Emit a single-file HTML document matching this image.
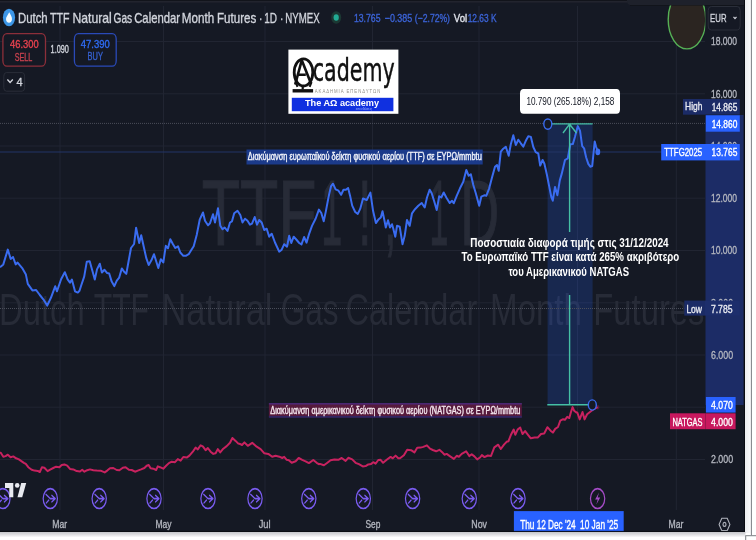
<!DOCTYPE html>
<html><head><meta charset="utf-8"><title>TTF vs NATGAS</title>
<style>
html,body{margin:0;padding:0;background:#ffffff;}
body{width:756px;height:540px;overflow:hidden;position:relative;}
svg{position:absolute;left:0;top:0;display:block;font-family:"Liberation Sans", "DejaVu Sans", sans-serif;}
</style></head>
<body>
<svg width="756" height="540" viewBox="0 0 756 540">
<rect x="0" y="0" width="745" height="532" fill="#151924"/>
<rect x="0" y="0.8" width="745" height="1.8" fill="#22242e"/>
<rect x="0" y="0" width="745" height="0.8" fill="#121319"/>
<path d="M627,0 H745 V5.2 H632 Q627,5.2 627,1 Z" fill="#1e212b"/>
<rect x="630" y="5.2" width="115" height="0.8" fill="#11131a"/>
<path d="M0,41.5 H705 M0,93.8 H705 M0,146.0 H705 M0,198.2 H705 M0,250.5 H705 M0,302.8 H705 M0,355.0 H705 M0,407.2 H705 M0,459.5 H705 M60,6 V510 M163.5,6 V510 M265,6 V510 M372.5,6 V510 M479,6 V510 M577.5,6 V510 M676.3,6 V510" stroke="#212532" stroke-width="1" fill="none"/>
<text x="201.7" y="245.2" font-size="93.5" fill="#272b37" text-anchor="start" font-weight="normal" textLength="114.8" lengthAdjust="spacingAndGlyphs" stroke="#272b37" stroke-width="1.2">TTF</text>
<text x="321.2" y="245.2" font-size="93.5" fill="#272b37" text-anchor="start" font-weight="normal" textLength="21.0" lengthAdjust="spacingAndGlyphs" stroke="#272b37" stroke-width="1.2">1</text>
<text x="358.5" y="245.2" font-size="93.5" fill="#272b37" text-anchor="start" font-weight="normal" textLength="12.6" lengthAdjust="spacingAndGlyphs" stroke="#272b37" stroke-width="1.2">!</text>
<text x="384.0" y="245.2" font-size="93.5" fill="#272b37" text-anchor="start" font-weight="normal" textLength="12.5" lengthAdjust="spacingAndGlyphs" stroke="#272b37" stroke-width="1.2">,</text>
<text x="429.5" y="245.2" font-size="93.5" fill="#272b37" text-anchor="start" font-weight="normal" textLength="18.9" lengthAdjust="spacingAndGlyphs" stroke="#272b37" stroke-width="1.2">1</text>
<text x="460.2" y="245.2" font-size="93.5" fill="#272b37" text-anchor="start" font-weight="normal" textLength="39.0" lengthAdjust="spacingAndGlyphs" stroke="#272b37" stroke-width="1.2">D</text>
<text x="-0.9" y="325.0" font-size="44" fill="#272b37" text-anchor="start" font-weight="normal" textLength="85.6" lengthAdjust="spacingAndGlyphs">Dutch</text>
<text x="93.7" y="325.0" font-size="44" fill="#272b37" text-anchor="start" font-weight="normal" textLength="55.4" lengthAdjust="spacingAndGlyphs">TTF</text>
<text x="161.5" y="325.0" font-size="44" fill="#272b37" text-anchor="start" font-weight="normal" textLength="111.0" lengthAdjust="spacingAndGlyphs">Natural</text>
<text x="280.7" y="325.0" font-size="44" fill="#272b37" text-anchor="start" font-weight="normal" textLength="57.8" lengthAdjust="spacingAndGlyphs">Gas</text>
<text x="345.5" y="325.0" font-size="44" fill="#272b37" text-anchor="start" font-weight="normal" textLength="131.7" lengthAdjust="spacingAndGlyphs">Calendar</text>
<text x="489.9" y="325.0" font-size="44" fill="#272b37" text-anchor="start" font-weight="normal" textLength="92.1" lengthAdjust="spacingAndGlyphs">Month</text>
<text x="593.3" y="325.0" font-size="44" fill="#272b37" text-anchor="start" font-weight="normal" textLength="111.2" lengthAdjust="spacingAndGlyphs">Futures</text>
<rect x="547.6" y="123.9" width="45" height="281" fill="#2962ff" fill-opacity="0.2"/>
<path d="M0,123.4 H705" stroke="#4a4e5a" stroke-width="1" stroke-dasharray="1 1"/>
<path d="M0,308.5 H705" stroke="#4a4e5a" stroke-width="1" stroke-dasharray="1 1"/>
<path d="M0,152 H705" stroke="#223466" stroke-width="1"/>
<path d="M0,452.2 L1.1,453.3 L3.3,456.7 L5.6,456.1 L7.8,454.7 L10.6,457.2 L13.3,456.4 L16.1,458.3 L18.9,459.4 L21.7,461.3 L23.9,462.8 L25.8,463.9 L28.3,467.2 L31.7,469.8 L34.4,470.6 L37.8,470.9 L39.8,472 L42,467.2 L44.4,467.8 L47.6,471.1 L50.6,469.4 L53.3,468 L56.1,466.7 L59.4,467.2 L61.7,465 L64.4,464.4 L67.2,465.6 L70,468.9 L73.3,469.4 L76.7,471.1 L80,471.5 L82.2,469.8 L84.4,471.7 L87.2,470.2 L90,469.4 L93.3,470.2 L96.7,470.6 L100.6,470.7 L104.7,472.4 L107.2,470.6 L110,468.3 L113.3,468 L116.7,470 L119.4,470.2 L122.8,467.8 L125.6,467.2 L128.9,469.8 L131.7,470 L135,471.7 L137.8,470.6 L141.1,469.4 L144.4,468 L146.7,465.8 L148.7,465 L150.6,468.3 L153.3,468.7 L156.1,470 L157.8,466.4 L160,467.2 L163.3,468.7 L166.1,465.8 L168.9,463.1 L171.7,461.7 L175,462.2 L177.8,459.1 L180.6,460.6 L183.3,457 L186.7,457.6 L189.4,455.6 L192.8,451.7 L195.6,447.6 L197.8,449.4 L200.6,445.3 L202.8,446.4 L205.6,450.2 L207.8,448 L210.6,451.7 L213.3,453.9 L215.6,453.3 L217.8,449.1 L220.2,452.4 L223.3,448.7 L226.7,446.1 L230,442.8 L232.4,438 L235.6,440.9 L238.3,443.6 L240,443.9 L242,445 L244.4,442.4 L247.8,445.8 L252.2,442.8 L256.7,446.7 L260.6,449.1 L264.4,453.3 L268.3,453.9 L272.2,456.7 L275.6,455.8 L279.4,456.7 L282.2,458 L284.2,456.9 L286.7,459.8 L288.9,460.2 L291.7,462.8 L295.6,461.3 L298.7,458 L302.2,459.8 L305.6,461.3 L308.9,463.1 L313.3,460 L316.7,462.8 L318.9,464.2 L320,463.9 L323.9,465.3 L326.7,463.3 L330.6,460.2 L334.4,459.4 L338.3,459.8 L341.7,458 L345.6,460.9 L348.3,457.8 L352.2,459.4 L355.6,462.8 L358.9,464.2 L362.8,466.4 L365.6,466.1 L368.3,464.4 L371.1,463.9 L373.3,462.2 L375.6,463.6 L378.3,460 L380.6,459.8 L383.1,462.8 L386.7,459.8 L390.6,456.9 L392.8,458.3 L395.6,455.6 L398.3,458.3 L400,458.3 L403.9,455.3 L407.2,449.8 L411.1,450.2 L414.4,452.4 L417.2,447.8 L420.6,447.6 L423.3,446.9 L426.9,445.3 L430,448.7 L432.8,450 L436.1,451.3 L439.4,449.8 L442.2,452.2 L444.4,454.7 L446.7,453.9 L449.8,456.1 L453.9,458.9 L456.7,455.8 L458.9,456.7 L461.7,453.9 L466.1,451.3 L469.4,456.1 L471.7,454.2 L474.4,456.4 L477.2,459.4 L480,457.5 L481.9,455.1 L484.5,457.1 L487.8,455.5 L491,456 L494.3,447.3 L498.2,444.7 L500.8,449 L504,444.7 L506.6,441.8 L508.5,441.2 L511.1,434.4 L513.7,429.6 L515.3,434.8 L517.6,429.6 L520.2,427.5 L522.5,434 L525.1,431.1 L528,434.8 L530.8,438.3 L534.5,437.6 L537.7,437.6 L541,434 L544.2,433.5 L547.4,427.2 L550.6,430.7 L552.9,432.6 L555.2,428.9 L558,427 L560.3,420.6 L563.1,419.2 L564.9,419.8 L567.2,416.9 L569.3,418 L570.9,412.2 L572.6,407.1 L574.2,410.8 L576,412.2 L577.4,412.7 L579.7,419.4 L582.5,412 L584.6,419.4 L587.1,414.3 L590.6,411.5 L594,409 L597.6,407.2" stroke="#c8225f" stroke-width="2" fill="none" stroke-linejoin="round"/>
<path d="M0,267.2 L3.3,264.4 L7.8,249.6 L10.7,258.9 L13,257 L15.7,264.4 L17.6,262.6 L22.2,268.1 L25.9,274.6 L27.8,283.9 L32.4,290.4 L36.1,290 L39.8,295 L43.5,299.6 L47.2,305.6 L50.9,297.8 L55.2,286.3 L57,291.3 L61.1,279.3 L64.8,272.2 L67.6,279.3 L70,282.6 L71.9,279.6 L75,291.3 L77.8,292.6 L79.5,290.8 L81.1,285.7 L84.2,276.6 L86.8,261.7 L89.7,261.3 L92.3,270.4 L94.8,279.6 L97,269.4 L99.8,263.7 L101.9,272.5 L104.5,269.8 L107.2,273.1 L109.2,273.5 L111.7,281.6 L114.3,286.1 L116.8,280.6 L119.2,277.6 L121.8,268.4 L123.9,271.5 L126.3,273.9 L128.4,262.3 L131,248 L134.1,244 L136.1,227.7 L139.2,243 L141.2,235.2 L143.8,247 L146.3,258.2 L148.7,265 L151.4,260.3 L154,254.2 L155.8,260 L158.3,268 L160.8,259.2 L163.3,262.5 L165.8,245.8 L168,248.3 L170.3,239.2 L173,244.2 L175.3,248 L178,246.3 L180.3,252.5 L183.3,255.8 L185.8,255.8 L188.7,254.2 L191.3,250 L193.7,246.3 L196.7,235 L199.7,219.7 L203,212.5 L205,220.8 L208,225.3 L210,223.3 L213,214.2 L215,222.5 L218,208.3 L220.3,225.8 L222.5,229.2 L224.7,227.5 L227.5,231 L230,222.5 L232,221.3 L234.2,213.3 L237.5,210.8 L240.3,215 L242.5,222.5 L245,218.7 L247.5,220.8 L250,224.7 L252,223.7 L254.7,217 L257,224.7 L259.2,220 L261.7,222.5 L264.2,230 L266.7,228.7 L269.2,236.7 L271.7,233.7 L275,242.5 L279.2,251.7 L281.7,249.7 L284.2,244.2 L287,246.7 L289.2,235.8 L291.3,243 L293.7,236.7 L296.7,240 L299.2,243 L301.5,244.4 L304.1,237 L306.5,242.6 L309.3,233.3 L312,225.9 L315.7,218.5 L318.9,209.6 L321.3,213 L323.7,221.3 L325.9,211.1 L328.7,196.3 L331.1,186.1 L333,183.7 L335.6,189.3 L338.5,190.7 L341.1,194.8 L343.5,189.8 L345.9,189.8 L348.1,188 L350,195.4 L352.2,205.6 L355.2,212 L357.8,213.9 L360.2,208.9 L363,198.5 L366.7,200 L370.4,192.6 L373.1,211.1 L375.9,223.1 L378.7,219.2 L380.8,217.5 L382.5,211.3 L384.2,219.2 L385.8,227.5 L388,220.3 L390,227.5 L392,224.2 L393.3,228.7 L395.3,236.7 L397,225.8 L399.7,226.7 L402.5,244.2 L404.7,235.8 L407,220 L409.7,225.8 L412,213.3 L415,209.2 L418.3,205.8 L421.7,203 L424.7,207.5 L427,197.5 L429.7,189.7 L431.7,193.3 L434.2,201.3 L436.7,210 L439.2,196.3 L441.3,197.5 L443.7,192.5 L446.3,197.5 L449.7,203 L452,200.8 L453.7,203.3 L456.7,195.8 L460,188.3 L463.3,181.7 L466.3,170 L468.7,175.8 L470.8,174.2 L473.3,185 L475.8,193.3 L479.2,205.8 L481.3,196.7 L484.2,195.3 L486.3,195.8 L489.2,188.3 L492,177.5 L495,166.7 L497,165 L498.7,170.8 L500.8,151.7 L503.3,148.7 L505.8,146.7 L508.7,155.8 L510.8,144.2 L513.3,135.3 L515.8,145 L518.3,139.7 L520.8,143.3 L523.3,146.7 L525.8,140.8 L528.3,136.3 L530.9,136.9 L533.3,147 L535.7,152.2 L538.3,153.5 L540.2,165.6 L542.6,160 L544.4,163.7 L546.9,174.8 L549.1,185.9 L551.3,197 L552.8,200.7 L555,186.9 L557.4,195.2 L559.8,180.4 L561.7,173.9 L565,160 L567.8,158.3 L570.3,144.3 L572.8,144.1 L575,136.7 L577.8,126.1 L580,130.6 L582.2,146.1 L584.1,148.3 L586.1,157.2 L588.3,163.9 L590.3,166.7 L592.2,166.1 L594.7,141.4 L596.1,146.7 L597.8,151.9" stroke="#3a6cf0" stroke-width="2" fill="none" stroke-linejoin="round"/>
<ellipse cx="597.8" cy="151.9" rx="2.4" ry="3.3" fill="#3a6cf0"/>
<ellipse cx="597.8" cy="407.2" rx="1.6" ry="2.2" fill="#c8225f" opacity="0.3"/>
<path d="M551.8,123.9 H592.6 M547.3,404.8 H588 M569.6,124 V232 M569.6,295 V404.8 M563,133 L569.6,124.2 L576.5,133" stroke="#45bfa5" stroke-width="1.4" fill="none"/>
<ellipse cx="547.8" cy="124.1" rx="4" ry="5.1" stroke="#3a6cf0" stroke-width="1.4" fill="#151924"/>
<ellipse cx="592.3" cy="405" rx="4" ry="5.1" stroke="#3a6cf0" stroke-width="1.4" fill="#151924"/>
<rect x="246.5" y="149.5" width="236.2" height="15" fill="#1b3a8a"/>
<text x="247.8" y="159.9" font-size="10" fill="#f0f3fa" text-anchor="start" font-weight="normal" textLength="234.0" lengthAdjust="spacingAndGlyphs" stroke="#f0f3fa" stroke-width="0.4">Διακύμανση ευρωπαϊκού δείκτη φυσικού αερίου (TTF) σε ΕΥΡΩ/mmbtu</text>
<rect x="268.9" y="403.1" width="252.9" height="14.5" fill="#561a3c"/>
<rect x="268.9" y="403.1" width="252.9" height="1.4" fill="#4b2a7c"/>
<rect x="268.9" y="416.2" width="252.9" height="1.4" fill="#29296e"/>
<text x="270.3" y="413.8" font-size="10" fill="#f4e6ee" text-anchor="start" font-weight="normal" textLength="250.0" lengthAdjust="spacingAndGlyphs" stroke="#f4e6ee" stroke-width="0.4">Διακύμανση αμερικανικού δείκτη φυσικού αερίου (NATGAS) σε ΕΥΡΩ/mmbtu</text>
<text x="470.3" y="246.6" font-size="12" fill="#ffffff" text-anchor="start" font-weight="bold" textLength="198.3" lengthAdjust="spacingAndGlyphs">Ποσοστιαία διαφορά τιμής στις 31/12/2024</text>
<text x="461.5" y="261.4" font-size="12" fill="#ffffff" text-anchor="start" font-weight="bold" textLength="217.7" lengthAdjust="spacingAndGlyphs">Το Ευρωπαϊκό TTF είναι κατά 265% ακριβότερο</text>
<text x="508.4" y="275.7" font-size="12" fill="#ffffff" text-anchor="start" font-weight="bold" textLength="120.6" lengthAdjust="spacingAndGlyphs">του Αμερικανικού NATGAS</text>
<rect x="520" y="88.9" width="100" height="24.8" rx="3.5" ry="4.5" fill="#ffffff"/>
<text x="526.4" y="105.0" font-size="10.5" fill="#131722" text-anchor="start" font-weight="normal" textLength="88.0" lengthAdjust="spacingAndGlyphs">10.790 (265.18%) 2,158</text>
<clipPath id="c1"><rect x="600" y="5.5" width="105.3" height="60"/></clipPath>
<ellipse cx="687" cy="19.5" rx="18.8" ry="29.4" fill="#2b2521" stroke="#56b156" stroke-width="1.4" clip-path="url(#c1)"/>
<rect x="705.5" y="115" width="38" height="290" fill="#1c2c66"/>
<text x="711.0" y="45.4" font-size="11.6" fill="#b2b5be" text-anchor="start" font-weight="normal" textLength="26.1" lengthAdjust="spacingAndGlyphs" stroke="#b2b5be" stroke-width="0.35">18.000</text>
<text x="711.0" y="97.7" font-size="11.6" fill="#b2b5be" text-anchor="start" font-weight="normal" textLength="26.1" lengthAdjust="spacingAndGlyphs" stroke="#b2b5be" stroke-width="0.35">16.000</text>
<text x="711.0" y="149.9" font-size="11.6" fill="#b2b5be" text-anchor="start" font-weight="normal" textLength="26.1" lengthAdjust="spacingAndGlyphs" stroke="#b2b5be" stroke-width="0.35">14.000</text>
<text x="711.0" y="202.2" font-size="11.6" fill="#b2b5be" text-anchor="start" font-weight="normal" textLength="26.1" lengthAdjust="spacingAndGlyphs" stroke="#b2b5be" stroke-width="0.35">12.000</text>
<text x="711.0" y="254.4" font-size="11.6" fill="#b2b5be" text-anchor="start" font-weight="normal" textLength="26.1" lengthAdjust="spacingAndGlyphs" stroke="#b2b5be" stroke-width="0.35">10.000</text>
<text x="711.0" y="306.6" font-size="11.6" fill="#b2b5be" text-anchor="start" font-weight="normal" textLength="22.1" lengthAdjust="spacingAndGlyphs" stroke="#b2b5be" stroke-width="0.35">8.000</text>
<text x="711.0" y="358.9" font-size="11.6" fill="#b2b5be" text-anchor="start" font-weight="normal" textLength="22.1" lengthAdjust="spacingAndGlyphs" stroke="#b2b5be" stroke-width="0.35">6.000</text>
<text x="711.0" y="463.4" font-size="11.6" fill="#b2b5be" text-anchor="start" font-weight="normal" textLength="22.1" lengthAdjust="spacingAndGlyphs" stroke="#b2b5be" stroke-width="0.35">2.000</text>
<rect x="683" y="99" width="22.0" height="15.7" fill="#1b2b66"/>
<text x="685.1" y="110.4" font-size="10.5" fill="#e8eaf0" text-anchor="start" font-weight="normal" textLength="17.3" lengthAdjust="spacingAndGlyphs" stroke="#e8eaf0" stroke-width="0.35">High</text>
<rect x="705" y="99" width="34.8" height="15.7" fill="#1b2b66"/>
<text x="711.7" y="110.8" font-size="10.5" fill="#e8eaf0" text-anchor="start" font-weight="normal" textLength="25.6" lengthAdjust="spacingAndGlyphs" stroke="#e8eaf0" stroke-width="0.35">14.865</text>
<rect x="705.8" y="115.3" width="34.0" height="16.4" fill="#2962ff"/>
<text x="711.7" y="127.8" font-size="10.5" fill="#ffffff" text-anchor="start" font-weight="normal" textLength="25.6" lengthAdjust="spacingAndGlyphs" stroke="#ffffff" stroke-width="0.35">14.860</text>
<rect x="661.2" y="144" width="43.8" height="16.4" fill="#2962ff"/>
<text x="664.3" y="155.9" font-size="10.5" fill="#ffffff" text-anchor="start" font-weight="normal" textLength="37.9" lengthAdjust="spacingAndGlyphs" stroke="#ffffff" stroke-width="0.35">TTFG2025</text>
<rect x="705" y="144" width="34.8" height="16.4" fill="#2962ff"/>
<text x="711.6" y="155.9" font-size="10.5" fill="#ffffff" text-anchor="start" font-weight="normal" textLength="25.8" lengthAdjust="spacingAndGlyphs" stroke="#ffffff" stroke-width="0.35">13.765</text>
<rect x="684.3" y="300.6" width="20.7" height="15.0" fill="#1b2b66"/>
<text x="686.4" y="312.6" font-size="10.5" fill="#e8eaf0" text-anchor="start" font-weight="normal" textLength="15.6" lengthAdjust="spacingAndGlyphs" stroke="#e8eaf0" stroke-width="0.35">Low</text>
<rect x="705" y="300.6" width="34.8" height="15.0" fill="#1d2e6c"/>
<text x="710.9" y="312.6" font-size="10.5" fill="#e8eaf0" text-anchor="start" font-weight="normal" textLength="21.6" lengthAdjust="spacingAndGlyphs" stroke="#e8eaf0" stroke-width="0.35">7.785</text>
<rect x="705.9" y="397" width="29.7" height="15.6" fill="#2962ff"/>
<text x="711.1" y="408.9" font-size="10.5" fill="#ffffff" text-anchor="start" font-weight="normal" textLength="21.7" lengthAdjust="spacingAndGlyphs" stroke="#ffffff" stroke-width="0.35">4.070</text>
<rect x="670" y="413.3" width="35.6" height="15.9" fill="#c8185e"/>
<text x="672.4" y="425.7" font-size="10.5" fill="#ffffff" text-anchor="start" font-weight="normal" textLength="30.0" lengthAdjust="spacingAndGlyphs" stroke="#ffffff" stroke-width="0.35">NATGAS</text>
<rect x="705.6" y="413.3" width="30.0" height="15.9" fill="#c8185e"/>
<text x="711.1" y="425.7" font-size="10.5" fill="#ffffff" text-anchor="start" font-weight="normal" textLength="21.7" lengthAdjust="spacingAndGlyphs" stroke="#ffffff" stroke-width="0.35">4.000</text>
<rect x="708.2" y="6.5" width="32" height="23.5" rx="3" ry="4" fill="#151924" stroke="#2a2e39" stroke-width="1"/>
<text x="710.1" y="21.8" font-size="11" fill="#d1d4dc" text-anchor="start" font-weight="normal" textLength="16.4" lengthAdjust="spacingAndGlyphs" stroke="#d1d4dc" stroke-width="0.35">EUR</text>
<path d="M733.5,16.9 L735,18.6 L736.5,16.9" stroke="#d1d4dc" stroke-width="1.2" fill="none"/>
<text x="52.3" y="528.3" font-size="11" fill="#b2b5be" text-anchor="start" font-weight="normal" textLength="14.8" lengthAdjust="spacingAndGlyphs" stroke="#b2b5be" stroke-width="0.35">Mar</text>
<text x="155.5" y="528.3" font-size="11" fill="#b2b5be" text-anchor="start" font-weight="normal" textLength="16.1" lengthAdjust="spacingAndGlyphs" stroke="#b2b5be" stroke-width="0.35">May</text>
<text x="258.7" y="528.3" font-size="11" fill="#b2b5be" text-anchor="start" font-weight="normal" textLength="11.9" lengthAdjust="spacingAndGlyphs" stroke="#b2b5be" stroke-width="0.35">Jul</text>
<text x="365.5" y="528.3" font-size="11" fill="#b2b5be" text-anchor="start" font-weight="normal" textLength="14.9" lengthAdjust="spacingAndGlyphs" stroke="#b2b5be" stroke-width="0.35">Sep</text>
<text x="471.3" y="528.3" font-size="11" fill="#b2b5be" text-anchor="start" font-weight="normal" textLength="15.7" lengthAdjust="spacingAndGlyphs" stroke="#b2b5be" stroke-width="0.35">Nov</text>
<text x="668.5" y="528.3" font-size="11" fill="#b2b5be" text-anchor="start" font-weight="normal" textLength="14.9" lengthAdjust="spacingAndGlyphs" stroke="#b2b5be" stroke-width="0.35">Mar</text>
<rect x="513.9" y="511.1" width="109.8" height="21" fill="#2962ff"/>
<text x="520.2" y="528.6" font-size="12" fill="#ffffff" text-anchor="start" font-weight="normal" textLength="55.5" lengthAdjust="spacingAndGlyphs" stroke="#ffffff" stroke-width="0.35">Thu 12 Dec '24</text>
<text x="580.0" y="528.6" font-size="12" fill="#ffffff" text-anchor="start" font-weight="normal" textLength="38.2" lengthAdjust="spacingAndGlyphs" stroke="#ffffff" stroke-width="0.35">10 Jan '25</text>
<path d="M721.8,518.2 L727.2,518.2 L729.9,524.4 L727.2,530.6 L721.8,530.6 L719.1,524.4 Z" stroke="#b2b5be" stroke-width="1.1" fill="none"/><ellipse cx="724.5" cy="524.4" rx="1.5" ry="2" stroke="#b2b5be" stroke-width="1.1" fill="none"/>
<g transform="translate(2.9,498.6) scale(0.72,1)"><circle r="9.9" stroke="#7a5cf0" stroke-width="1.7" fill="none"/><path d="M-6,-4.2 L0,0 H6.9 M2.1,-3.2 L6.9,0 L2.1,3.2 M-2.1,1.6 L-5.6,4.4" stroke="#7a5cf0" stroke-width="1.6" fill="none" stroke-linecap="round" stroke-linejoin="round"/></g>
<g transform="translate(50.3,498.6) scale(0.72,1)"><circle r="9.9" stroke="#7a5cf0" stroke-width="1.7" fill="none"/><path d="M-6,-4.2 L0,0 H6.9 M2.1,-3.2 L6.9,0 L2.1,3.2 M-2.1,1.6 L-5.6,4.4" stroke="#7a5cf0" stroke-width="1.6" fill="none" stroke-linecap="round" stroke-linejoin="round"/></g>
<g transform="translate(99.2,498.6) scale(0.72,1)"><circle r="9.9" stroke="#7a5cf0" stroke-width="1.7" fill="none"/><path d="M-6,-4.2 L0,0 H6.9 M2.1,-3.2 L6.9,0 L2.1,3.2 M-2.1,1.6 L-5.6,4.4" stroke="#7a5cf0" stroke-width="1.6" fill="none" stroke-linecap="round" stroke-linejoin="round"/></g>
<g transform="translate(154,498.6) scale(0.72,1)"><circle r="9.9" stroke="#7a5cf0" stroke-width="1.7" fill="none"/><path d="M-6,-4.2 L0,0 H6.9 M2.1,-3.2 L6.9,0 L2.1,3.2 M-2.1,1.6 L-5.6,4.4" stroke="#7a5cf0" stroke-width="1.6" fill="none" stroke-linecap="round" stroke-linejoin="round"/></g>
<g transform="translate(208,498.6) scale(0.72,1)"><circle r="9.9" stroke="#7a5cf0" stroke-width="1.7" fill="none"/><path d="M-6,-4.2 L0,0 H6.9 M2.1,-3.2 L6.9,0 L2.1,3.2 M-2.1,1.6 L-5.6,4.4" stroke="#7a5cf0" stroke-width="1.6" fill="none" stroke-linecap="round" stroke-linejoin="round"/></g>
<g transform="translate(255,498.6) scale(0.72,1)"><circle r="9.9" stroke="#7a5cf0" stroke-width="1.7" fill="none"/><path d="M-6,-4.2 L0,0 H6.9 M2.1,-3.2 L6.9,0 L2.1,3.2 M-2.1,1.6 L-5.6,4.4" stroke="#7a5cf0" stroke-width="1.6" fill="none" stroke-linecap="round" stroke-linejoin="round"/></g>
<g transform="translate(308.8,498.6) scale(0.72,1)"><circle r="9.9" stroke="#7a5cf0" stroke-width="1.7" fill="none"/><path d="M-6,-4.2 L0,0 H6.9 M2.1,-3.2 L6.9,0 L2.1,3.2 M-2.1,1.6 L-5.6,4.4" stroke="#7a5cf0" stroke-width="1.6" fill="none" stroke-linecap="round" stroke-linejoin="round"/></g>
<g transform="translate(363.3,498.6) scale(0.72,1)"><circle r="9.9" stroke="#7a5cf0" stroke-width="1.7" fill="none"/><path d="M-6,-4.2 L0,0 H6.9 M2.1,-3.2 L6.9,0 L2.1,3.2 M-2.1,1.6 L-5.6,4.4" stroke="#7a5cf0" stroke-width="1.6" fill="none" stroke-linecap="round" stroke-linejoin="round"/></g>
<g transform="translate(412.6,498.6) scale(0.72,1)"><circle r="9.9" stroke="#7a5cf0" stroke-width="1.7" fill="none"/><path d="M-6,-4.2 L0,0 H6.9 M2.1,-3.2 L6.9,0 L2.1,3.2 M-2.1,1.6 L-5.6,4.4" stroke="#7a5cf0" stroke-width="1.6" fill="none" stroke-linecap="round" stroke-linejoin="round"/></g>
<g transform="translate(469.3,498.6) scale(0.72,1)"><circle r="9.9" stroke="#7a5cf0" stroke-width="1.7" fill="none"/><path d="M-6,-4.2 L0,0 H6.9 M2.1,-3.2 L6.9,0 L2.1,3.2 M-2.1,1.6 L-5.6,4.4" stroke="#7a5cf0" stroke-width="1.6" fill="none" stroke-linecap="round" stroke-linejoin="round"/></g>
<g transform="translate(518,498.6) scale(0.72,1)"><circle r="9.9" stroke="#7a5cf0" stroke-width="1.7" fill="none"/><path d="M-6,-4.2 L0,0 H6.9 M2.1,-3.2 L6.9,0 L2.1,3.2 M-2.1,1.6 L-5.6,4.4" stroke="#7a5cf0" stroke-width="1.6" fill="none" stroke-linecap="round" stroke-linejoin="round"/></g>
<g transform="translate(597.6,498.6) scale(0.72,1)"><circle r="9.9" stroke="#a64cc8" stroke-width="1.7" fill="none"/><path d="M2,-6 L-3.4,1 H0.2 L-1.8,6 L3.6,-1 H0 Z" fill="#a64cc8"/></g>
<path d="M5,483 H13.3 V497.3 H9.3 V488 H5 Z" fill="#e8eaf0"/><circle cx="17.2" cy="485.4" r="2.3" fill="#e8eaf0"/><path d="M21.2,483 H26.2 L22.2,497.3 H17.5 Z" fill="#e8eaf0"/>
<ellipse cx="9" cy="17.5" rx="6.1" ry="8.7" fill="#3d97e8"/><path d="M9.2,12.2 C10.6,14.8 12,16.5 12,19 C12,21.3 10.7,22.8 9,22.8 C7.3,22.8 6,21.3 6,19 C6,16.8 7.8,15.3 9.2,12.2 Z" fill="#f4fbff"/>
<text x="17.9" y="22.8" font-size="14.2" fill="#d1d4dc" text-anchor="start" font-weight="normal" textLength="29.8" lengthAdjust="spacingAndGlyphs" stroke="#d1d4dc" stroke-width="0.35">Dutch</text>
<text x="50.0" y="22.8" font-size="14.2" fill="#d1d4dc" text-anchor="start" font-weight="normal" textLength="19.6" lengthAdjust="spacingAndGlyphs" stroke="#d1d4dc" stroke-width="0.35">TTF</text>
<text x="72.5" y="22.8" font-size="14.2" fill="#d1d4dc" text-anchor="start" font-weight="normal" textLength="39.3" lengthAdjust="spacingAndGlyphs" stroke="#d1d4dc" stroke-width="0.35">Natural</text>
<text x="113.6" y="22.8" font-size="14.2" fill="#d1d4dc" text-anchor="start" font-weight="normal" textLength="18.6" lengthAdjust="spacingAndGlyphs" stroke="#d1d4dc" stroke-width="0.35">Gas</text>
<text x="134.2" y="22.8" font-size="14.2" fill="#d1d4dc" text-anchor="start" font-weight="normal" textLength="45.9" lengthAdjust="spacingAndGlyphs" stroke="#d1d4dc" stroke-width="0.35">Calendar</text>
<text x="181.8" y="22.8" font-size="14.2" fill="#d1d4dc" text-anchor="start" font-weight="normal" textLength="32.4" lengthAdjust="spacingAndGlyphs" stroke="#d1d4dc" stroke-width="0.35">Month</text>
<text x="217.0" y="22.8" font-size="14.2" fill="#d1d4dc" text-anchor="start" font-weight="normal" textLength="39.2" lengthAdjust="spacingAndGlyphs" stroke="#d1d4dc" stroke-width="0.35">Futures</text>
<text x="258.9" y="22.8" font-size="14.2" fill="#d1d4dc" text-anchor="start" font-weight="normal" textLength="3.4" lengthAdjust="spacingAndGlyphs" stroke="#d1d4dc" stroke-width="0.35">·</text>
<text x="264.3" y="22.8" font-size="14.2" fill="#d1d4dc" text-anchor="start" font-weight="normal" textLength="12.8" lengthAdjust="spacingAndGlyphs" stroke="#d1d4dc" stroke-width="0.35">1D</text>
<text x="280.0" y="22.8" font-size="14.2" fill="#d1d4dc" text-anchor="start" font-weight="normal" textLength="3.4" lengthAdjust="spacingAndGlyphs" stroke="#d1d4dc" stroke-width="0.35">·</text>
<text x="285.3" y="22.8" font-size="14.2" fill="#d1d4dc" text-anchor="start" font-weight="normal" textLength="34.4" lengthAdjust="spacingAndGlyphs" stroke="#d1d4dc" stroke-width="0.35">NYMEX</text>
<ellipse cx="336.2" cy="17.5" rx="5" ry="6.2" fill="#1c3833"/><ellipse cx="336.2" cy="17.5" rx="2.6" ry="3.3" fill="#22ab94"/>
<text x="353.9" y="21.6" font-size="11" fill="#3b63d6" text-anchor="start" font-weight="normal" textLength="26.6" lengthAdjust="spacingAndGlyphs" stroke="#3b63d6" stroke-width="0.35">13.765</text>
<text x="384.7" y="21.6" font-size="11" fill="#3b63d6" text-anchor="start" font-weight="normal" textLength="27.5" lengthAdjust="spacingAndGlyphs" stroke="#3b63d6" stroke-width="0.35">−0.385</text>
<text x="414.8" y="21.6" font-size="11" fill="#3b63d6" text-anchor="start" font-weight="normal" textLength="35.2" lengthAdjust="spacingAndGlyphs" stroke="#3b63d6" stroke-width="0.35">(−2.72%)</text>
<text x="453.8" y="21.6" font-size="11" fill="#e0e3eb" text-anchor="start" font-weight="normal" textLength="13.4" lengthAdjust="spacingAndGlyphs" stroke="#e0e3eb" stroke-width="0.35">Vol</text>
<text x="467.7" y="21.6" font-size="11" fill="#3b63d6" text-anchor="start" font-weight="normal" textLength="28.9" lengthAdjust="spacingAndGlyphs" stroke="#3b63d6" stroke-width="0.35">12.63 K</text>
<rect x="2.9" y="33.6" width="42.6" height="32.6" rx="4" ry="5.5" fill="#151924" stroke="#8c2f3a" stroke-width="1.3"/>
<text x="10.0" y="47.8" font-size="10.5" fill="#e8424f" text-anchor="start" font-weight="normal" textLength="28.6" lengthAdjust="spacingAndGlyphs" stroke="#e8424f" stroke-width="0.35">46.300</text>
<text x="14.7" y="60.7" font-size="10.5" fill="#c8414e" text-anchor="start" font-weight="normal" textLength="17.7" lengthAdjust="spacingAndGlyphs" stroke="#c8414e" stroke-width="0.35">SELL</text>
<text x="50.6" y="53.4" font-size="10" fill="#d1d4dc" text-anchor="start" font-weight="normal" textLength="18.3" lengthAdjust="spacingAndGlyphs" stroke="#d1d4dc" stroke-width="0.35">1.090</text>
<rect x="74.4" y="33.6" width="41.8" height="32.6" rx="4" ry="5.5" fill="#151924" stroke="#2a4ab8" stroke-width="1.3"/>
<text x="80.8" y="47.8" font-size="10.5" fill="#2f6bf2" text-anchor="start" font-weight="normal" textLength="29.0" lengthAdjust="spacingAndGlyphs" stroke="#2f6bf2" stroke-width="0.35">47.390</text>
<text x="87.6" y="60.4" font-size="10.5" fill="#3560d0" text-anchor="start" font-weight="normal" textLength="15.3" lengthAdjust="spacingAndGlyphs" stroke="#3560d0" stroke-width="0.35">BUY</text>
<rect x="3.8" y="72.6" width="20.8" height="18.6" rx="2.5" ry="3.5" fill="#151924" stroke="#2a2e39" stroke-width="1"/>
<path d="M7.4,79.6 L10.1,82.4 L12.8,79.6" stroke="#d1d4dc" stroke-width="1.4" fill="none"/>
<text x="16.4" y="85.7" font-size="11.5" fill="#d1d4dc" text-anchor="start" font-weight="normal" textLength="6.1" lengthAdjust="spacingAndGlyphs" stroke="#d1d4dc" stroke-width="0.35">4</text>
<rect x="288.4" y="49.6" width="110" height="64.2" fill="#ffffff"/>
<rect x="291.8" y="97.8" width="101.6" height="13.4" fill="#1030e0"/>
<text x="305.0" y="106.4" font-size="9.5" fill="#ffffff" text-anchor="start" font-weight="bold" textLength="74.1" lengthAdjust="spacingAndGlyphs">The AΩ academy</text>
<text x="355.8" y="110.3" font-size="3.2" fill="#9db0ff" text-anchor="start" font-weight="normal" textLength="16.3" lengthAdjust="spacingAndGlyphs">επενδύσεις</text>
<text x="312.7" y="81.2" font-size="32" fill="#111111" text-anchor="start" font-weight="normal" textLength="82.1" lengthAdjust="spacingAndGlyphs" font-family="DejaVu Sans, sans-serif" font-weight="200" stroke="#111111" stroke-width="0.45">cademy</text>
<ellipse cx="303.5" cy="72.4" rx="9.3" ry="13.6" stroke="#111111" stroke-width="2.8" fill="none"/>
<path d="M295.2,84.5 L301.8,60.2 L310.2,81.5 M298.8,74.8 H305.8" stroke="#111111" stroke-width="2.6" stroke-linejoin="bevel" fill="none"/>
<path d="M295.5,82 L297.5,86.8 M311.6,82 L309.6,86.8" stroke="#111111" stroke-width="2" fill="none"/>
<rect x="301.6" y="85.5" width="2.2" height="4" fill="#111111"/><rect x="292.6" y="89.1" width="20.5" height="3.4" fill="#111111"/>
<text x="314.8" y="93.0" font-size="4.6" fill="#929089" text-anchor="start" font-weight="normal" textLength="66.4" lengthAdjust="spacingAndGlyphs" letter-spacing="1">ΑΚΑΔΗΜΙΑ ΕΠΕΝΔΥΤΩΝ</text>
<defs><linearGradient id="gb" x1="0" y1="0" x2="0" y2="1"><stop offset="0" stop-color="#c4c5c9"/><stop offset="0.45" stop-color="#dcdcdf"/><stop offset="1" stop-color="#ffffff"/></linearGradient><linearGradient id="gr" x1="0" y1="0" x2="1" y2="0"><stop offset="0" stop-color="#eceef1"/><stop offset="1" stop-color="#fbfbfc"/></linearGradient></defs>
<rect x="745" y="0" width="11" height="540" fill="#ffffff"/>
<rect x="745" y="0" width="6" height="533" fill="url(#gr)"/>
<rect x="0" y="532" width="745" height="8" fill="#ffffff"/>
<rect x="0" y="531.9" width="745.5" height="5.6" fill="url(#gb)"/>
<rect x="0" y="530.9" width="745" height="1" fill="#080a10"/>
<rect x="744" y="0" width="1" height="532" fill="#0a0c12"/>
<path d="M751.4,0 V535.5" stroke="#7b7f84" stroke-width="1"/>
<rect x="745.7" y="535.7" width="12" height="6" fill="#ffffff" stroke="#7b7f84" stroke-width="1"/>
</svg>
</body></html>
